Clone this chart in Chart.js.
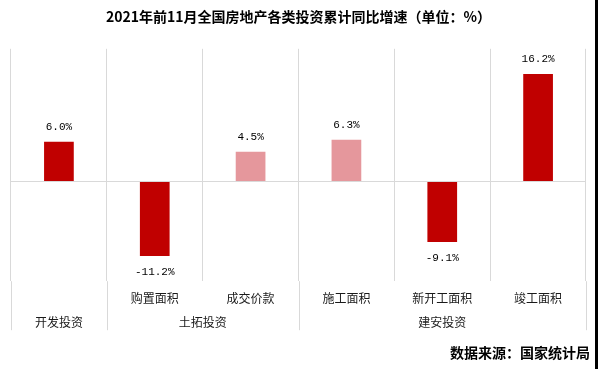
<!DOCTYPE html>
<html>
<head>
<meta charset="utf-8">
<script src="https://cdn.jsdelivr.net/npm/chart.js@4.4.0/dist/chart.umd.min.js"></script>
<style>
  body { margin: 0; background: #fff; }
  #wrap { position: relative; width: 600px; height: 369px; }
  #source { position: absolute; right: 10px; top: 342px; font: bold 14px "Noto Sans CJK SC", sans-serif; color: #000; }
  #edge { position: absolute; left: 595px; top: 0; width: 3px; height: 369px; background: #000; }
</style>
</head>
<body>
<div id="wrap">
  <canvas id="myChart" width="600" height="369"></canvas>
  <div id="source">数据来源：国家统计局</div>
  <div id="edge"></div>
</div>
<script>
var categories = ["开发投资", "购置面积", "成交价款", "施工面积", "新开工面积", "竣工面积"];
var growth = [6.0, -11.2, 4.5, 6.3, -9.1, 16.2];
var barColors = ["#C00000", "#C00000", "#E5979C", "#E5979C", "#C00000", "#C00000"];
// group row: 13 half-step slots, boundaries at slots 0, 2, 6, 12
var groupLabels = ["", "开发投资", "", "", "土拓投资", "", "", "", "", "建安投资", "", "", ""];
var groupEdges = [0, 2, 6, 12];

var gridGray = "#D9D9D9";

// value labels above / below the bars
var valueLabels = {
    id: "valueLabels",
    afterDatasetsDraw: function(chart) {
        var ctx = chart.ctx;
        var meta = chart.getDatasetMeta(0);
        ctx.save();
        ctx.font = "11px 'Liberation Mono', monospace";
        ctx.fillStyle = "#000";
        ctx.textAlign = "center";
        ctx.textBaseline = "middle";
        meta.data.forEach(function(bar, i) {
            var v = growth[i];
            var y = v >= 0 ? bar.y - 15 : bar.y + 16;
            ctx.fillText(v.toFixed(1) + "%", bar.x, y);
        });
        ctx.restore();
    }
};

// separator lines between the groups, down through both label rows
var groupLines = {
    id: "groupLines",
    afterDraw: function(chart) {
        var g = chart.scales.group;
        var ctx = chart.ctx;
        var bottom = chart.chartArea.bottom;
        ctx.save();
        ctx.strokeStyle = gridGray;
        ctx.lineWidth = 1;
        groupEdges.forEach(function(idx) {
            var x = Math.round(g.getPixelForValue(idx)) + 0.5;
            ctx.beginPath();
            ctx.moveTo(x, bottom);
            ctx.lineTo(x, bottom + 49);
            ctx.stroke();
        });
        ctx.restore();
    }
};

var ctx = document.getElementById("myChart").getContext("2d");
var myChart = new Chart(ctx, {
    type: "bar",
    data: {
        labels: categories,
        datasets: [{
            data: growth,
            backgroundColor: barColors,
            barPercentage: 0.31,
            categoryPercentage: 1
        }]
    },
    options: {
        responsive: false,
        animation: false,
        layout: { padding: { left: 11, right: 14, bottom: 39 } },
        plugins: {
            legend: { display: false },
            tooltip: { enabled: false },
            title: {
                display: true,
                text: "2021年前11月全国房地产各类投资累计同比增速（单位：%）",
                font: { family: "'Noto Sans CJK SC'", size: 14, weight: "bold" },
                color: "#000",
                padding: { top: 8, bottom: 24 }
            }
        },
        scales: {
            y: {
                min: -15,
                max: 20,
                ticks: { display: false, stepSize: 5 },
                border: { display: false },
                grid: {
                    drawTicks: false,
                    color: function(c) { return c.tick && c.tick.value === 0 ? gridGray : "transparent"; }
                }
            },
            x: {
                weight: 0,
                border: { display: false },
                grid: { offset: true, color: gridGray, drawTicks: false },
                ticks: {
                    padding: 10,
                    color: "#1a1a1a",
                    font: { family: "'Noto Sans CJK SC'", size: 12 },
                    maxRotation: 0,
                    autoSkip: false,
                    // the first column is its own group, so it is named only in the group row
                    callback: function(value, i) { return i === 0 ? "" : categories[i]; }
                }
            },
            group: {
                type: "category",
                labels: groupLabels,
                position: "bottom",
                weight: 1,
                offset: false,
                border: { display: false },
                grid: { display: false, drawTicks: false },
                ticks: {
                    padding: 0,
                    color: "#1a1a1a",
                    font: { family: "'Noto Sans CJK SC'", size: 12 },
                    maxRotation: 0,
                    autoSkip: false
                }
            }
        }
    },
    plugins: [valueLabels, groupLines]
});
</script>
</body>
</html>
